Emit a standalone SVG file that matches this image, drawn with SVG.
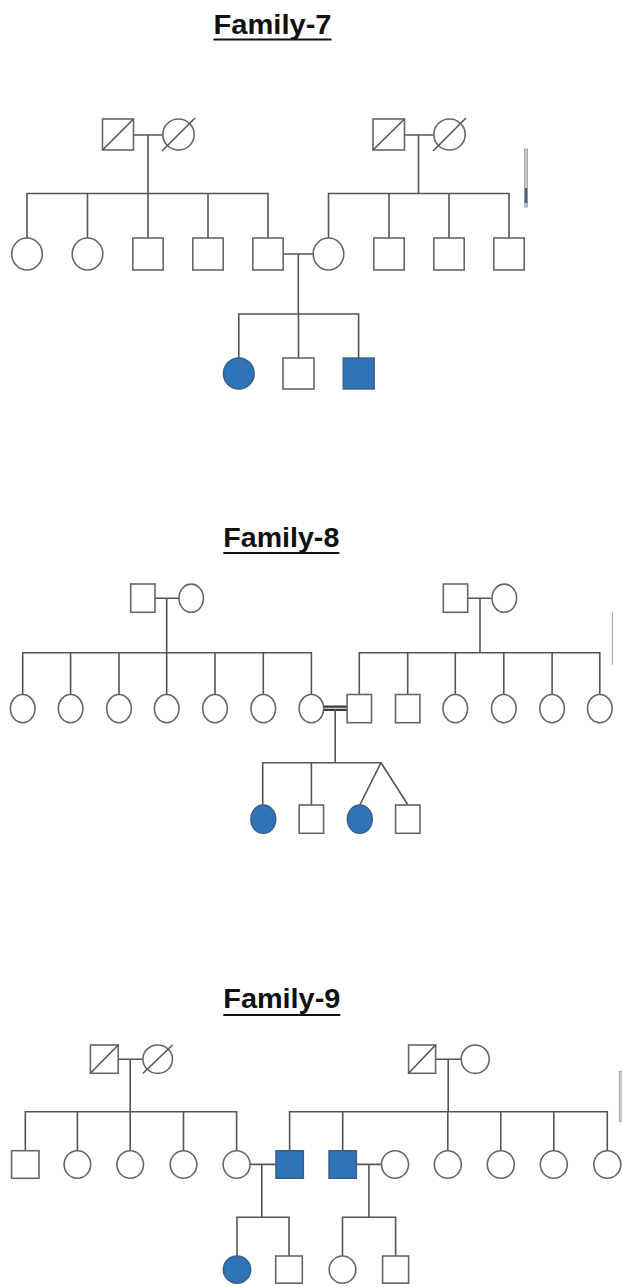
<svg xmlns="http://www.w3.org/2000/svg" width="622" height="1287" viewBox="0 0 622 1287">
<style>
.bg{fill:#ffffff}
.ln{stroke:#555555;stroke-width:1.6;fill:none;stroke-linecap:square}
.dbl{stroke:#3a3a3a;stroke-width:2.2;fill:none}
.sh{fill:#ffffff;stroke:#666666;stroke-width:1.6}
.aff{fill:#2f74b8;stroke:#3b5f84;stroke-width:1.4}
.sl{stroke:#555555;stroke-width:1.6;fill:none}
.title{font-family:"Liberation Sans",Arial,sans-serif;font-weight:bold;font-size:27px;fill:#111111}
.ul{fill:#111111}
</style>
<rect class="bg" x="0" y="0" width="622" height="1287"/>

<!-- Titles -->
<g id="title7"><text class="title" x="213.5" y="33.5" textLength="118" lengthAdjust="spacingAndGlyphs">Family-7</text><rect class="ul" x="213.5" y="38.5" width="118" height="2"/></g>
<g id="title8"><text class="title" x="223.3" y="547" textLength="116" lengthAdjust="spacingAndGlyphs">Family-8</text><rect class="ul" x="223.3" y="552" width="116" height="2"/></g>
<g id="title9"><text class="title" x="223.3" y="1008.3" textLength="117" lengthAdjust="spacingAndGlyphs">Family-9</text><rect class="ul" x="223.3" y="1014" width="117" height="2"/></g>

<!-- Connectors -->
<g id="connectors">
  <!-- Family 7 -->
  <path class="ln" d="M133.5 135 H162.8 M148 135 V193.5 M27 193.5 H268 M27 193.5 V238 M87.5 193.5 V238 M148 193.5 V238 M208 193.5 V238 M268 193.5 V238"/>
  <path class="ln" d="M404.5 135 H433.8 M418.5 135 V193.5 M328.5 193.5 H509 M328.5 193.5 V238 M389 193.5 V238 M449 193.5 V238 M509 193.5 V238"/>
  <path class="ln" d="M283.3 254 H313.2 M298.3 254 V314 M238.8 314 H358.6 M238.8 314 V358 M298.5 314 V358 M358.6 314 V358"/>
  <!-- Family 8 -->
  <path class="ln" d="M155 598.3 H179 M166.7 598.3 V652.7 M22.7 652.7 H311.4 M22.7 652.7 V694.5 M70.6 652.7 V694.5 M119 652.7 V694.5 M166.7 652.7 V694.5 M215 652.7 V694.5 M263.3 652.7 V694.5 M311.4 652.7 V694.5"/>
  <path class="ln" d="M467.7 598.3 H492 M480 598.3 V652.7 M359.3 652.7 H599.8 M359.3 652.7 V694.5 M407.7 652.7 V694.5 M455.3 652.7 V694.5 M503.8 652.7 V694.5 M552.1 652.7 V694.5 M599.8 652.7 V694.5"/>
  <path class="dbl" d="M323.7 706.6 H347.1 M323.7 709.8 H347.1"/>
  <path class="ln" d="M335.2 709.8 V762.7 M262.7 762.7 H381 M262.7 762.7 V805 M311.4 762.7 V805"/>
  <path class="sl" d="M381 762.7 L359.8 805 M381 762.7 L408 805"/>
  <!-- Family 9 -->
  <path class="ln" d="M118.2 1059.2 H142.9 M130.2 1059.2 V1111.7 M25.3 1111.7 H236.6 M25.3 1111.7 V1150.7 M77.4 1111.7 V1150.7 M130.2 1111.7 V1150.7 M183.5 1111.7 V1150.7 M236.6 1111.7 V1150.7"/>
  <path class="ln" d="M435.6 1059.2 H461.2 M448.2 1059.2 V1111.7 M289.6 1111.7 H607.3 M289.6 1111.7 V1150.7 M342.7 1111.7 V1150.7 M447.8 1111.7 V1150.7 M500.8 1111.7 V1150.7 M553.8 1111.7 V1150.7 M607.3 1111.7 V1150.7"/>
  <path class="ln" d="M250.3 1164.4 H275.9 M261.8 1164.4 V1217.3 M237 1217.3 H289 M237 1217.3 V1256 M289 1217.3 V1256"/>
  <path class="ln" d="M356.4 1164.4 H381.4 M368.9 1164.4 V1217.3 M342.5 1217.3 H395.6 M342.5 1217.3 V1256 M395.6 1217.3 V1256"/>
</g>

<!-- Family 7 nodes -->
<g id="f7_gp1_m"><rect class="sh" x="102.5" y="119" width="31" height="31"/><path class="sl" d="M102.5 150 L133.5 119"/></g>
<g id="f7_gp1_f"><ellipse class="sh" cx="178.5" cy="134.5" rx="15.7" ry="15.5"/><path class="sl" d="M162 151 L195 118"/></g>
<g id="f7_gp2_m"><rect class="sh" x="373" y="119" width="31.5" height="31"/><path class="sl" d="M373 150 L404.5 119"/></g>
<g id="f7_gp2_f"><ellipse class="sh" cx="449.5" cy="134.5" rx="15.7" ry="15.5"/><path class="sl" d="M433 151 L466 118"/></g>

<g id="f7_c1"><ellipse class="sh" cx="27" cy="254" rx="15.3" ry="16"/></g>
<g id="f7_c2"><ellipse class="sh" cx="87.5" cy="254" rx="15.3" ry="16"/></g>
<g id="f7_c3"><rect class="sh" x="132.8" y="238" width="30.4" height="32"/></g>
<g id="f7_c4"><rect class="sh" x="192.8" y="238" width="30.4" height="32"/></g>
<g id="f7_c5"><rect class="sh" x="252.8" y="238" width="30.4" height="32"/></g>
<g id="f7_s1"><ellipse class="sh" cx="328.5" cy="254" rx="15.3" ry="16"/></g>
<g id="f7_s2"><rect class="sh" x="373.8" y="238" width="30.4" height="32"/></g>
<g id="f7_s3"><rect class="sh" x="433.8" y="238" width="30.4" height="32"/></g>
<g id="f7_s4"><rect class="sh" x="493.8" y="238" width="30.4" height="32"/></g>

<g id="f7_k1"><ellipse class="aff" cx="238.8" cy="373.5" rx="15.4" ry="15.5"/></g>
<g id="f7_k2"><rect class="sh" x="283" y="358" width="31" height="31"/></g>
<g id="f7_k3"><rect class="aff" x="343.2" y="358" width="31" height="31"/></g>

<g id="f7_mark"><rect x="524.5" y="149" width="3" height="58" fill="#c8c8c8" stroke="#9a9a9a" stroke-width="0.8"/><rect x="524.8" y="188" width="2.4" height="15" fill="#44608a"/></g>

<!-- Family 8 nodes -->
<g id="f8_gp1_m"><rect class="sh" x="130.7" y="584" width="24.3" height="28.3"/></g>
<g id="f8_gp1_f"><ellipse class="sh" cx="191.2" cy="598.2" rx="12.2" ry="14.1"/></g>
<g id="f8_gp2_m"><rect class="sh" x="443.3" y="584" width="24.4" height="28.3"/></g>
<g id="f8_gp2_f"><ellipse class="sh" cx="504.3" cy="598.2" rx="12.3" ry="14.1"/></g>

<g id="f8_a1"><ellipse class="sh" cx="22.7" cy="708.6" rx="12.3" ry="14.1"/></g>
<g id="f8_a2"><ellipse class="sh" cx="70.6" cy="708.6" rx="12.3" ry="14.1"/></g>
<g id="f8_a3"><ellipse class="sh" cx="119" cy="708.6" rx="12.3" ry="14.1"/></g>
<g id="f8_a4"><ellipse class="sh" cx="166.7" cy="708.6" rx="12.3" ry="14.1"/></g>
<g id="f8_a5"><ellipse class="sh" cx="215" cy="708.6" rx="12.3" ry="14.1"/></g>
<g id="f8_a6"><ellipse class="sh" cx="263.3" cy="708.6" rx="12.3" ry="14.1"/></g>
<g id="f8_a7"><ellipse class="sh" cx="311.4" cy="708.6" rx="12.3" ry="14.1"/></g>
<g id="f8_b1"><rect class="sh" x="347.1" y="694.5" width="24.4" height="28.2"/></g>
<g id="f8_b2"><rect class="sh" x="395.5" y="694.5" width="24.4" height="28.2"/></g>
<g id="f8_b3"><ellipse class="sh" cx="455.3" cy="708.6" rx="12.3" ry="14.1"/></g>
<g id="f8_b4"><ellipse class="sh" cx="503.8" cy="708.6" rx="12.3" ry="14.1"/></g>
<g id="f8_b5"><ellipse class="sh" cx="552.1" cy="708.6" rx="12.3" ry="14.1"/></g>
<g id="f8_b6"><ellipse class="sh" cx="599.8" cy="708.6" rx="12.3" ry="14.1"/></g>

<g id="f8_k1"><ellipse class="aff" cx="263.3" cy="819.2" rx="12.5" ry="14.2"/></g>
<g id="f8_k2"><rect class="sh" x="299.2" y="805" width="24.4" height="28.3"/></g>
<g id="f8_k3"><ellipse class="aff" cx="359.8" cy="819.2" rx="12.5" ry="14.2"/></g>
<g id="f8_k4"><rect class="sh" x="395.6" y="805" width="24.4" height="28.3"/></g>

<g id="f8_mark"><line x1="612.5" y1="612" x2="612.5" y2="665" stroke="#b5b5b5" stroke-width="1.3"/></g>

<!-- Family 9 nodes -->
<g id="f9_gp1_m"><rect class="sh" x="90.4" y="1045" width="27.8" height="28.3"/><path class="sl" d="M90.4 1073.3 L118.2 1045"/></g>
<g id="f9_gp1_f"><ellipse class="sh" cx="157.7" cy="1059.2" rx="14.8" ry="14.2"/><path class="sl" d="M142.8 1073.5 L172.5 1045"/></g>
<g id="f9_gp2_m"><rect class="sh" x="408.6" y="1045" width="27" height="28.3"/><path class="sl" d="M408.6 1073.3 L435.6 1045"/></g>
<g id="f9_gp2_f"><ellipse class="sh" cx="475.2" cy="1059.2" rx="14" ry="14.2"/></g>

<g id="f9_a1"><rect class="sh" x="11.6" y="1150.7" width="27.4" height="27.6"/></g>
<g id="f9_a2"><ellipse class="sh" cx="77.4" cy="1164.5" rx="13.3" ry="13.8"/></g>
<g id="f9_a3"><ellipse class="sh" cx="130.2" cy="1164.5" rx="13.3" ry="13.8"/></g>
<g id="f9_a4"><ellipse class="sh" cx="183.5" cy="1164.5" rx="13.3" ry="13.8"/></g>
<g id="f9_a5"><ellipse class="sh" cx="236.6" cy="1164.5" rx="13.5" ry="13.8"/></g>
<g id="f9_b1"><rect class="aff" x="275.9" y="1150.7" width="27.5" height="27.6"/></g>
<g id="f9_b2"><rect class="aff" x="329" y="1150.7" width="27.4" height="27.6"/></g>
<g id="f9_s2"><ellipse class="sh" cx="395" cy="1164.5" rx="13.5" ry="13.8"/></g>
<g id="f9_b3"><ellipse class="sh" cx="447.8" cy="1164.5" rx="13.5" ry="13.8"/></g>
<g id="f9_b4"><ellipse class="sh" cx="500.8" cy="1164.5" rx="13.5" ry="13.8"/></g>
<g id="f9_b5"><ellipse class="sh" cx="553.8" cy="1164.5" rx="13.5" ry="13.8"/></g>
<g id="f9_b6"><ellipse class="sh" cx="607.3" cy="1164.5" rx="13.5" ry="13.8"/></g>

<g id="f9_k1"><ellipse class="aff" cx="237" cy="1269.6" rx="13.7" ry="13.7"/></g>
<g id="f9_k2"><rect class="sh" x="275.7" y="1256" width="26.6" height="27.2"/></g>
<g id="f9_k3"><ellipse class="sh" cx="342.5" cy="1269.6" rx="13.3" ry="13.6"/></g>
<g id="f9_k4"><rect class="sh" x="382.6" y="1256" width="26" height="27.2"/></g>

<g id="f9_mark"><rect x="619.2" y="1071.5" width="3" height="50" fill="#d0d0d0" stroke="#999999" stroke-width="0.8"/></g>
</svg>
